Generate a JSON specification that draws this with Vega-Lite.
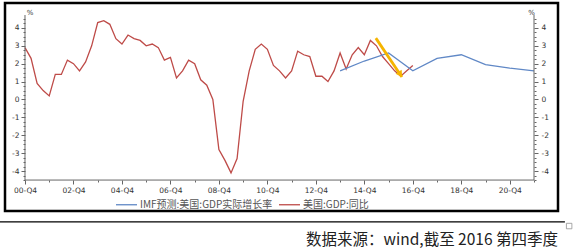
{
  "$schema": "https://vega.github.io/schema/vega-lite/v6.json",
  "autosize": "none",
  "width": 553,
  "height": 208,
  "padding": {"left": 5, "top": 3, "right": 16, "bottom": 41},
  "background": "white",
  "config": {"view": {"stroke": "#000", "strokeWidth": 2.5}},
  "datasets": {
    "gdp": [
      {"s": "美国:GDP:同比", "t": 0, "v": 2.9}, {"s": "美国:GDP:同比", "t": 1, "v": 2.3}, {"s": "美国:GDP:同比", "t": 2, "v": 0.9}, {"s": "美国:GDP:同比", "t": 3, "v": 0.5},
      {"s": "美国:GDP:同比", "t": 4, "v": 0.2}, {"s": "美国:GDP:同比", "t": 5, "v": 1.4}, {"s": "美国:GDP:同比", "t": 6, "v": 1.4}, {"s": "美国:GDP:同比", "t": 7, "v": 2.2},
      {"s": "美国:GDP:同比", "t": 8, "v": 2.0}, {"s": "美国:GDP:同比", "t": 9, "v": 1.6}, {"s": "美国:GDP:同比", "t": 10, "v": 2.1}, {"s": "美国:GDP:同比", "t": 11, "v": 3.0},
      {"s": "美国:GDP:同比", "t": 12, "v": 4.3}, {"s": "美国:GDP:同比", "t": 13, "v": 4.4}, {"s": "美国:GDP:同比", "t": 14, "v": 4.2}, {"s": "美国:GDP:同比", "t": 15, "v": 3.4},
      {"s": "美国:GDP:同比", "t": 16, "v": 3.1}, {"s": "美国:GDP:同比", "t": 17, "v": 3.6}, {"s": "美国:GDP:同比", "t": 18, "v": 3.4}, {"s": "美国:GDP:同比", "t": 19, "v": 3.3},
      {"s": "美国:GDP:同比", "t": 20, "v": 3.0}, {"s": "美国:GDP:同比", "t": 21, "v": 3.1}, {"s": "美国:GDP:同比", "t": 22, "v": 2.9}, {"s": "美国:GDP:同比", "t": 23, "v": 2.2},
      {"s": "美国:GDP:同比", "t": 24, "v": 2.35}, {"s": "美国:GDP:同比", "t": 25, "v": 1.2}, {"s": "美国:GDP:同比", "t": 26, "v": 1.6}, {"s": "美国:GDP:同比", "t": 27, "v": 2.2},
      {"s": "美国:GDP:同比", "t": 28, "v": 2.0}, {"s": "美国:GDP:同比", "t": 29, "v": 1.1}, {"s": "美国:GDP:同比", "t": 30, "v": 0.8}, {"s": "美国:GDP:同比", "t": 31, "v": 0.0},
      {"s": "美国:GDP:同比", "t": 32, "v": -2.8}, {"s": "美国:GDP:同比", "t": 33, "v": -3.4}, {"s": "美国:GDP:同比", "t": 34, "v": -4.1}, {"s": "美国:GDP:同比", "t": 35, "v": -3.3},
      {"s": "美国:GDP:同比", "t": 36, "v": -0.1}, {"s": "美国:GDP:同比", "t": 37, "v": 1.6}, {"s": "美国:GDP:同比", "t": 38, "v": 2.8}, {"s": "美国:GDP:同比", "t": 39, "v": 3.1},
      {"s": "美国:GDP:同比", "t": 40, "v": 2.8}, {"s": "美国:GDP:同比", "t": 41, "v": 1.9}, {"s": "美国:GDP:同比", "t": 42, "v": 1.6}, {"s": "美国:GDP:同比", "t": 43, "v": 1.2},
      {"s": "美国:GDP:同比", "t": 44, "v": 1.6}, {"s": "美国:GDP:同比", "t": 45, "v": 2.7}, {"s": "美国:GDP:同比", "t": 46, "v": 2.5}, {"s": "美国:GDP:同比", "t": 47, "v": 2.4},
      {"s": "美国:GDP:同比", "t": 48, "v": 1.3}, {"s": "美国:GDP:同比", "t": 49, "v": 1.3}, {"s": "美国:GDP:同比", "t": 50, "v": 1.0}, {"s": "美国:GDP:同比", "t": 51, "v": 1.6},
      {"s": "美国:GDP:同比", "t": 52, "v": 2.6}, {"s": "美国:GDP:同比", "t": 53, "v": 1.7}, {"s": "美国:GDP:同比", "t": 54, "v": 2.5}, {"s": "美国:GDP:同比", "t": 55, "v": 2.9},
      {"s": "美国:GDP:同比", "t": 56, "v": 2.5}, {"s": "美国:GDP:同比", "t": 57, "v": 3.3}, {"s": "美国:GDP:同比", "t": 58, "v": 3.0}, {"s": "美国:GDP:同比", "t": 59, "v": 2.4},
      {"s": "美国:GDP:同比", "t": 60, "v": 2.0}, {"s": "美国:GDP:同比", "t": 61, "v": 1.6}, {"s": "美国:GDP:同比", "t": 62, "v": 1.3}, {"s": "美国:GDP:同比", "t": 63, "v": 1.6},
      {"s": "美国:GDP:同比", "t": 64, "v": 1.9},
      {"s": "IMF预测:美国:GDP实际增长率", "t": 52, "v": 1.6}, {"s": "IMF预测:美国:GDP实际增长率", "t": 56, "v": 2.15}, {"s": "IMF预测:美国:GDP实际增长率", "t": 60, "v": 2.6},
      {"s": "IMF预测:美国:GDP实际增长率", "t": 64, "v": 1.6}, {"s": "IMF预测:美国:GDP实际增长率", "t": 68, "v": 2.3}, {"s": "IMF预测:美国:GDP实际增长率", "t": 72, "v": 2.5},
      {"s": "IMF预测:美国:GDP实际增长率", "t": 76, "v": 1.95}, {"s": "IMF预测:美国:GDP实际增长率", "t": 80, "v": 1.75}, {"s": "IMF预测:美国:GDP实际增长率", "t": 84, "v": 1.6}
    ],
    "axisrules": [
      {"t": 0, "t2": 0, "v": -4.5, "v2": 4.72},
      {"t": 84, "t2": 84, "v": -4.5, "v2": 4.72},
      {"t": 0, "t2": 84, "v": -4.5, "v2": -4.5}
    ],
    "sep": [{"t": -4.2, "t2": 89.1, "v": -6.84, "v2": -6.84}],
    "arrow": [{"t": 57.9, "v": 3.43}, {"t": 62.2, "v": 1.26}],
    "arrowhead": [{"t": 61.85, "v": 1.45, "a": 146}],
    "pct": [{"t": 0.85, "v": 4.82, "label": "%"}, {"t": 83.6, "v": 4.82, "label": "%"}],
    "source": [{"t": 87.96, "v": -7.85, "label": "数据来源：wind,截至 2016 第四季度"}],
    "box": [{"t": 89.8, "v": -7.07}]
  },
  "resolve": {"axis": {"x": "independent", "y": "independent"}},
  "layer": [
    {
      "data": {"name": "gdp"},
      "mark": {"type": "line", "strokeWidth": 1.3},
      "encoding": {
        "x": {"field": "t", "type": "quantitative",
          "scale": {"domain": [-3.3, 87.96], "nice": false, "zero": false},
          "axis": {"orient": "bottom", "offset": -31, "domain": false, "grid": false, "title": null,
            "values": [0,4,8,12,16,20,24,28,32,36,40,44,48,52,56,60,64,68,72,76,80,84],
            "labelExpr": "datum.value % 8 === 0 ? ((datum.value/4 < 10 ? '0' : '') + (datum.value/4) + '-Q4') : ''",
            "tickSize": {"condition": {"test": "datum.value % 8 === 0", "value": 4}, "value": 2},
            "tickColor": "#666", "labelFont": "DejaVu Sans", "labelFontSize": 7.5, "labelColor": "#333",
            "labelPadding": 2, "labelFlush": false, "labelOverlap": false}},
        "y": {"field": "v", "type": "quantitative",
          "scale": {"domain": [-6.229, 5.391], "nice": false, "zero": false},
          "axis": {"orient": "left", "offset": -20, "domain": false, "grid": false, "title": null,
            "values": [-4.5,-4.25,-4,-3.75,-3.5,-3.25,-3,-2.75,-2.5,-2.25,-2,-1.75,-1.5,-1.25,-1,-0.75,-0.5,-0.25,0,0.25,0.5,0.75,1,1.25,1.5,1.75,2,2.25,2.5,2.75,3,3.25,3.5,3.75,4,4.25,4.5],
            "labelExpr": "datum.value % 1 === 0 ? '' + datum.value : ''",
            "tickSize": {"condition": {"test": "datum.value % 1 === 0", "value": 4}, "value": 2},
            "tickColor": "#666", "labelFont": "DejaVu Sans", "labelFontSize": 7.5, "labelColor": "#333",
            "labelPadding": 2, "labelFlush": false, "labelOverlap": false}},
        "color": {"field": "s", "type": "nominal",
          "scale": {"domain": ["IMF预测:美国:GDP实际增长率", "美国:GDP:同比"], "range": ["#6088C6", "#BE4B48"]},
          "legend": {"orient": "none", "legendX": 110, "legendY": 190, "direction": "horizontal", "title": null,
            "symbolType": "stroke", "symbolSize": 441, "symbolStrokeWidth": 1.3,
            "labelFont": "Noto Sans CJK SC", "labelFontSize": 10, "labelColor": "#555",
            "labelOffset": 2, "columnPadding": 3, "padding": 0}}
      }
    },
    {
      "data": {"name": "axisrules"},
      "mark": {"type": "rule", "color": "#666", "strokeWidth": 1},
      "encoding": {
        "x": {"field": "t", "type": "quantitative", "scale": {"domain": [-3.3, 87.96], "nice": false, "zero": false}, "axis": null},
        "x2": {"field": "t2"},
        "y": {"field": "v", "type": "quantitative",
          "scale": {"domain": [-6.229, 5.391], "nice": false, "zero": false},
          "axis": {"orient": "right", "offset": -24, "domain": false, "grid": false, "title": null,
            "values": [-4.5,-4.25,-4,-3.75,-3.5,-3.25,-3,-2.75,-2.5,-2.25,-2,-1.75,-1.5,-1.25,-1,-0.75,-0.5,-0.25,0,0.25,0.5,0.75,1,1.25,1.5,1.75,2,2.25,2.5,2.75,3,3.25,3.5,3.75,4,4.25,4.5],
            "labelExpr": "datum.value % 1 === 0 ? '' + datum.value : ''",
            "tickSize": {"condition": {"test": "datum.value % 1 === 0", "value": 4}, "value": 2},
            "tickColor": "#666", "labelFont": "DejaVu Sans", "labelFontSize": 7.5, "labelColor": "#333",
            "labelPadding": 3, "labelFlush": false, "labelOverlap": false}},
        "y2": {"field": "v2"}
      }
    },
    {
      "data": {"name": "sep"},
      "mark": {"type": "rule", "color": "#000", "strokeWidth": 1.2},
      "encoding": {
        "x": {"field": "t", "type": "quantitative", "scale": {"domain": [-3.3, 87.96], "nice": false, "zero": false}, "axis": null},
        "x2": {"field": "t2"},
        "y": {"field": "v", "type": "quantitative", "scale": {"domain": [-6.229, 5.391], "nice": false, "zero": false}, "axis": null},
        "y2": {"field": "v2"}
      }
    },
    {
      "data": {"name": "arrow"},
      "mark": {"type": "line", "color": "#F5B400", "strokeWidth": 2.8},
      "encoding": {
        "x": {"field": "t", "type": "quantitative", "scale": {"domain": [-3.3, 87.96], "nice": false, "zero": false}, "axis": null},
        "y": {"field": "v", "type": "quantitative", "scale": {"domain": [-6.229, 5.391], "nice": false, "zero": false}, "axis": null}
      }
    },
    {
      "data": {"name": "arrowhead"},
      "mark": {"type": "point", "shape": "triangle", "filled": true, "color": "#F5B400", "opacity": 1, "size": 55},
      "encoding": {
        "x": {"field": "t", "type": "quantitative", "scale": {"domain": [-3.3, 87.96], "nice": false, "zero": false}, "axis": null},
        "y": {"field": "v", "type": "quantitative", "scale": {"domain": [-6.229, 5.391], "nice": false, "zero": false}, "axis": null},
        "angle": {"field": "a", "type": "quantitative", "scale": null}
      }
    },
    {
      "data": {"name": "pct"},
      "mark": {"type": "text", "font": "DejaVu Sans", "fontSize": 7, "color": "#333", "align": "center", "baseline": "middle"},
      "encoding": {
        "x": {"field": "t", "type": "quantitative", "scale": {"domain": [-3.3, 87.96], "nice": false, "zero": false}, "axis": null},
        "y": {"field": "v", "type": "quantitative", "scale": {"domain": [-6.229, 5.391], "nice": false, "zero": false}, "axis": null},
        "text": {"field": "label"}
      }
    },
    {
      "data": {"name": "source"},
      "mark": {"type": "text", "font": "Noto Sans CJK SC", "fontSize": 15.5, "color": "#222", "align": "right", "baseline": "middle"},
      "encoding": {
        "x": {"field": "t", "type": "quantitative", "scale": {"domain": [-3.3, 87.96], "nice": false, "zero": false}, "axis": null},
        "y": {"field": "v", "type": "quantitative", "scale": {"domain": [-6.229, 5.391], "nice": false, "zero": false}, "axis": null},
        "text": {"field": "label"}
      }
    },
    {
      "data": {"name": "box"},
      "mark": {"type": "point", "shape": "square", "filled": false, "color": "#666", "strokeWidth": 0.8, "size": 30},
      "encoding": {
        "x": {"field": "t", "type": "quantitative", "scale": {"domain": [-3.3, 87.96], "nice": false, "zero": false}, "axis": null},
        "y": {"field": "v", "type": "quantitative", "scale": {"domain": [-6.229, 5.391], "nice": false, "zero": false}, "axis": null}
      }
    }
  ]
}
